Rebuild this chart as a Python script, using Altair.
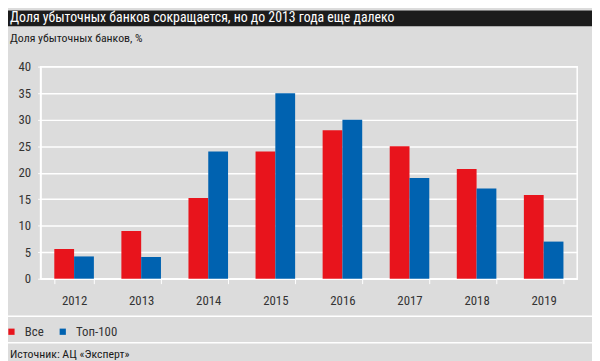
import altair as alt
import pandas as pd

years = ["2012", "2013", "2014", "2015", "2016", "2017", "2018", "2019"]
vse = [5.6, 9.0, 15.2, 24.0, 28.0, 25.0, 20.7, 15.8]
top100 = [4.2, 4.1, 24.0, 35.0, 30.0, 19.0, 17.0, 7.0]
series = ["Все", "Топ-100"]
colors = ["#e8141c", "#0062b0"]

title_text = "Доля убыточных банков сокращается, но до 2013 года еще далеко"
subtitle_text = "Доля убыточных банков, %"
source_text = "Источник: АЦ «Эксперт»"

rows = []
for i, y in enumerate(years):
    rows.append({"year": y, "series": series[0], "value": vse[i]})
    rows.append({"year": y, "series": series[1], "value": top100[i]})
df = pd.DataFrame(rows)

FONT = "Roboto Condensed"
W, H = 544, 215
PL, PT = 33, 57

bars = alt.Chart(df).mark_bar().encode(
    x=alt.X("year:N", sort=years, title=None,
            scale=alt.Scale(paddingInner=0.41, paddingOuter=0.205),
            axis=alt.Axis(labelAngle=0, tickBand="extent", tickColor="white",
                          tickSize=5, labelPadding=11, domainColor="white",
                          domainWidth=1.5, labelFontSize=13, labelColor="#333333",
                          labelFont=FONT)),
    xOffset=alt.XOffset("series:N", sort=series),
    y=alt.Y("value:Q", title=None,
            scale=alt.Scale(domain=[0, 40]),
            axis=alt.Axis(values=list(range(0, 41, 5)), grid=True, gridColor="white",
                          gridWidth=1.5, tickColor="white", tickSize=3, labelPadding=7,
                          domainColor="white", domainWidth=1.5, labelFontSize=13,
                          labelColor="#333333", labelFont=FONT)),
    color=alt.Color("series:N", sort=series,
                    scale=alt.Scale(domain=series, range=colors),
                    legend=alt.Legend(orient="none", legendX=-36, legendY=262,
                                      direction="horizontal", title=None,
                                      symbolType="square", symbolSize=40,
                                      symbolStrokeWidth=0, labelFontSize=13,
                                      labelFont=FONT, labelColor="#333333",
                                      labelOffset=7, columnPadding=12)),
)

one = pd.DataFrame({"k": [0]})
base = alt.Chart(one)

title_bar = base.mark_rect(color="#1c1c1c").encode(
    x=alt.value(-PL), x2=alt.value(W + 20), y=alt.value(-PT), y2=alt.value(-41))
title = base.mark_text(align="left", baseline="middle", color="white",
                       font=FONT, fontSize=14).encode(
    x=alt.value(-31), y=alt.value(-49), text=alt.value(title_text))
subtitle = base.mark_text(align="left", baseline="middle", color="#1a1a1a",
                          font=FONT, fontSize=12).encode(
    x=alt.value(-31), y=alt.value(-29), text=alt.value(subtitle_text))
rule1 = base.mark_rule(color="white", strokeWidth=1.5).encode(
    x=alt.value(-PL), x2=alt.value(W + 20), y=alt.value(253))
rule2 = base.mark_rule(color="white", strokeWidth=1.5).encode(
    x=alt.value(-PL), x2=alt.value(W + 20), y=alt.value(280))
source = base.mark_text(align="left", baseline="middle", color="#1a1a1a",
                        font=FONT, fontSize=12).encode(
    x=alt.value(-31), y=alt.value(291), text=alt.value(source_text))

chart = alt.layer(title_bar, title, subtitle, rule1, rule2, source, bars).properties(
    width=W, height=H,
    autosize=alt.AutoSizeParams(type="none"),
    padding={"left": PL, "top": PT, "right": 15, "bottom": 81},
    background="#dcdcdc",
).configure_view(stroke="white", strokeWidth=1.5)

chart.save("out.html", embed_options={"renderer": "svg", "actions": False})
